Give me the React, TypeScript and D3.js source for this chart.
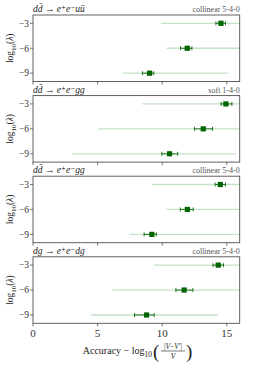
import * as d3 from 'd3'

// ─── Data ─────────────────────────────────────────────────────────────────────

const titles = ['dd̄ → e⁺e⁻uū', 'dd̄ → e⁺e⁻gg', 'dd̄ → e⁺e⁻gg', 'dg → e⁺e⁻dg']
const tags = ['collinear 5-4-0', 'soft 1-4-0', 'collinear 5-4-0', 'collinear 5-4-0']
const lambdas = [-3, -6, -9]

// accuracy per panel, per lambda row
const centre = [
  [14.55, 11.94, 9.02],
  [14.93, 13.18, 10.57],
  [14.5, 11.95, 9.2],
  [14.34, 11.7, 8.79],
]
const errLo = [
  [14.16, 11.42, 8.47],
  [14.55, 12.5, 9.97],
  [14.1, 11.4, 8.6],
  [13.93, 11.06, 7.86],
]
const errHi = [
  [14.9, 12.3, 9.35],
  [15.4, 13.9, 11.2],
  [14.9, 12.4, 9.55],
  [14.75, 12.38, 9.38],
]
const rangeLo = [
  [9.92, 10.36, 6.95],
  [8.47, 5.04, 3.02],
  [9.2, 10.3, 7.45],
  [9.38, 6.15, 4.5],
]
const rangeHi = [
  [16, 16, 15.12],
  [16, 16, 15.76],
  [16, 16, 16],
  [16, 16, 14.32],
]

const xTicks = [0, 5, 10, 15]
const yTicks = [-3, -6, -9]

// ─── Layout ───────────────────────────────────────────────────────────────────

const W = 266
const H = 368
const LEFT = 33
const RIGHT = 239.7
const TOP0 = 15
const STEP = 80.6
const PH = 66.5

const SERIF = '"Liberation Serif", "DejaVu Serif", serif'
const DARK = '#006400'
const LIGHT = '#c6e2c6'
const SPINE = '#505050'

const x = d3.scaleLinear().domain([0, 16]).range([LEFT, RIGHT])

function Panel({ i }: { i: number }) {
  const top = TOP0 + i * STEP
  const y = d3.scaleLinear().domain([-10, -2]).range([top + PH, top])
  const last = i === titles.length - 1
  return (
    <g>
      {/* title + tag */}
      <text x={LEFT} y={top - 3} fontSize={9.5} fontStyle="italic" fontFamily={SERIF} fill="#222">
        {titles[i]}
      </text>
      <text x={RIGHT} y={top - 3} fontSize={8} textAnchor="end" fontFamily={SERIF} fill="#555">
        {tags[i]}
      </text>

      {/* rows */}
      {lambdas.map((l, j) => {
        const yy = y(l)
        return (
          <g key={j}>
            <line x1={x(rangeLo[i][j])} x2={x(rangeHi[i][j])} y1={yy} y2={yy} stroke={LIGHT} strokeWidth={1.3} />
            <line x1={x(errLo[i][j])} x2={x(errHi[i][j])} y1={yy} y2={yy} stroke={DARK} strokeWidth={1} opacity={0.85} />
            <line x1={x(errLo[i][j])} x2={x(errLo[i][j])} y1={yy - 2} y2={yy + 2} stroke={DARK} strokeWidth={1} opacity={0.85} />
            <line x1={x(errHi[i][j])} x2={x(errHi[i][j])} y1={yy - 2} y2={yy + 2} stroke={DARK} strokeWidth={1} opacity={0.85} />
            <rect x={x(centre[i][j]) - 2.6} y={yy - 2.6} width={5.2} height={5.2} fill={DARK} />
          </g>
        )
      })}

      {/* frame */}
      <rect x={LEFT} y={top} width={RIGHT - LEFT} height={PH} fill="none" stroke={SPINE} strokeWidth={0.9} />

      {/* y ticks */}
      {yTicks.map((t) => (
        <g key={t}>
          <line x1={LEFT - 3} x2={LEFT} y1={y(t)} y2={y(t)} stroke={SPINE} strokeWidth={0.8} />
          <text x={LEFT - 4} y={y(t) + 3.3} fontSize={9.5} textAnchor="end" fontFamily={SERIF} fill="#333">
            {'−' + Math.abs(t)}
          </text>
        </g>
      ))}

      {/* x ticks */}
      {xTicks.map((t) => (
        <g key={t}>
          <line x1={x(t)} x2={x(t)} y1={top + PH} y2={top + PH + 3} stroke={SPINE} strokeWidth={0.8} />
          {last && (
            <text x={x(t)} y={top + PH + 14} fontSize={11} textAnchor="middle" fontFamily={SERIF} fill="#333">
              {t}
            </text>
          )}
        </g>
      ))}

      {/* y label */}
      <text
        transform={`translate(13,${top + PH / 2}) rotate(-90)`}
        fontSize={9.5}
        textAnchor="middle"
        fontFamily={SERIF}
        fill="#222"
      >
        log<tspan fontSize={7} dy={2.5}>10</tspan>
        <tspan dy={-2.5}>(</tspan>
        <tspan fontStyle="italic">λ</tspan>)
      </text>
    </g>
  )
}

function XLabel() {
  const base = 351
  const fx = 154
  return (
    <g fontFamily={SERIF} fill="#222">
      <text x={fx - 2} y={base + 3} fontSize={10} textAnchor="end">
        Accuracy − log<tspan fontSize={7.5} dy={2.5}>10</tspan>
      </text>
      <text x={fx - 1} y={base + 6.5} fontSize={19} fontWeight={300}>(</text>
      <text x={fx + 19} y={base - 2} fontSize={7.5} textAnchor="middle">
        |<tspan fontStyle="italic">V</tspan>−<tspan fontStyle="italic">V</tspan>′|
      </text>
      <line x1={fx + 7} x2={fx + 31} y1={base} y2={base} stroke="#222" strokeWidth={0.6} />
      <text x={fx + 19} y={base + 8} fontSize={7.5} textAnchor="middle" fontStyle="italic">V</text>
      <text x={fx + 32} y={base + 6.5} fontSize={19} fontWeight={300}>)</text>
    </g>
  )
}

export default function App() {
  return (
    <svg
      width={W}
      height={H}
      style={{ position: 'absolute', left: 0, top: 0, background: '#fff' }}
    >
      {titles.map((_, i) => (
        <Panel key={i} i={i} />
      ))}
      <XLabel />
    </svg>
  )
}
